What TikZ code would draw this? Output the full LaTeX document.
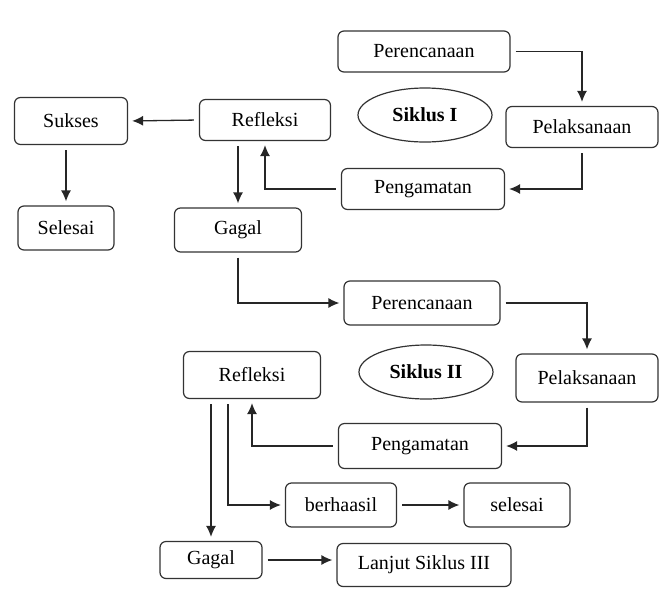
\documentclass[tikz,border=0pt]{standalone}
\usepackage{fontspec}
\setmainfont{Liberation Serif}
\usepackage{tikz}
\usetikzlibrary{arrows.meta,shapes.geometric}

\begin{document}
\begin{tikzpicture}[x=1pt,y=-1pt,
   font=\fontsize{20}{24}\selectfont,
   box/.style={draw=black!80,line width=1.2pt,rounded corners=6pt,inner sep=0pt},
   cycle/.style={draw=black!80,line width=1.2pt,ellipse,inner sep=0pt,
     minimum width=134pt,minimum height=54pt,font=\fontsize{20}{24}\selectfont\bfseries},
   line/.style={draw=black!85,line width=1.3pt,-{Latex[length=11pt,width=10pt]},shorten <=5pt,shorten >=4pt}]
   \useasboundingbox (0,0) rectangle (659,598);
   % Siklus I
   \node[box,minimum width=172pt,minimum height=41pt] (per1) at (424,51.5) {Perencanaan};
   \node[box,minimum width=152pt,minimum height=41pt] (pel1) at (582,127) {Pelaksanaan};
   \node[box,minimum width=163pt,minimum height=41pt] (peng1) at (423,189) {Pengamatan};
   \node[box,minimum width=131pt,minimum height=41pt] (refl1) at (265,120) {Refleksi};
   \node[box,minimum width=113pt,minimum height=47pt] (suk) at (71,121) {Sukses};
   \node[box,minimum width=96pt,minimum height=44pt] (sel1) at (66,228) {Selesai};
   \node[box,minimum width=127pt,minimum height=44pt] (gag1) at (238,230) {Gagal};
   \node[cycle] (sik1) at (425,115) {Siklus I};
   % Siklus II
   \node[box,minimum width=156pt,minimum height=44pt] (per2) at (422,303) {Perencanaan};
   \node[box,minimum width=142pt,minimum height=48pt] (pel2) at (587,378) {Pelaksanaan};
   \node[box,minimum width=163pt,minimum height=45pt] (peng2) at (420,446) {Pengamatan};
   \node[box,minimum width=137pt,minimum height=47pt] (refl2) at (252,375) {Refleksi};
   \node[box,minimum width=111pt,minimum height=44pt] (berh) at (341,505) {berhaasil};
   \node[box,minimum width=106pt,minimum height=44pt] (sel2) at (517,505) {selesai};
   \node[box,minimum width=102pt,minimum height=37pt] (gag2) at (211,560) {Gagal};
   \node[box,minimum width=174pt,minimum height=43pt] (lanj) at (424,565) {Lanjut Siklus III};
   \node[cycle] (sik2) at (426,372) {Siklus II};

   \draw[line] (per1.east) -| (pel1.north);
   \draw[line] (pel1.south) |- (peng1.east);
   \draw[line] (peng1.west) -| (refl1.south);
   \draw[line] (refl1.west) -- (suk.east);
   \draw[line] (suk.south -| sel1.north) -- (sel1.north);
   \draw[line] (refl1.south -| gag1.north) -- (gag1.north);
   \draw[line] (gag1.south) |- (per2.west);
   \draw[line] (per2.east) -| (pel2.north);
   \draw[line] (pel2.south) |- (peng2.east);
   \draw[line] (peng2.west) -| (refl2.south);
   \draw[line] (refl2.south -| gag2.north) -- (gag2.north);
   \draw[line] ([xshift=-24pt]refl2.south) |- (berh.west);
   \draw[line] (berh.east) -- (sel2.west);
   \draw[line] (gag2.east) -- (gag2.east -| lanj.west);
\end{tikzpicture}
\end{document}
